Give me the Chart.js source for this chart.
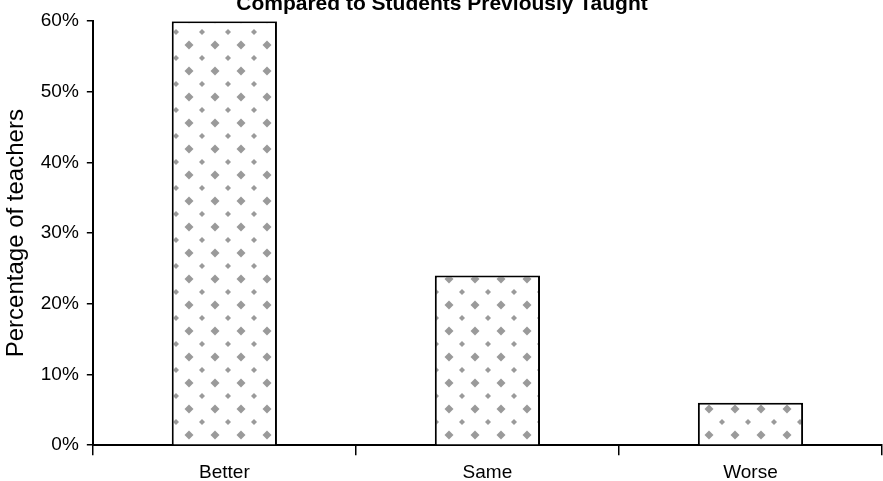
<!DOCTYPE html>
<html>
<head>
<meta charset="utf-8">
<script src="https://cdn.jsdelivr.net/npm/chart.js@4.4.1/dist/chart.umd.min.js"></script>
<style>
  html, body { margin: 0; padding: 0; background: #fff; overflow: hidden; }
  #wrap { position: absolute; left: 0; top: -14px; width: 883px; height: 504px; }
</style>
</head>
<body>
<div id="wrap"><canvas id="myChart"></canvas></div>
<script>
const categories = ['Better', 'Same', 'Worse']
const percentages = [60, 24, 6]
const yTicks = [0, 10, 20, 30, 40, 50, 60]

const ctx = document.getElementById('myChart')

// dotted halftone fill like the scanned bars
function dotPattern() {
  const c = document.createElement('canvas')
  c.width = 26
  c.height = 26
  const g = c.getContext('2d')
  g.fillStyle = '#ffffff'
  g.fillRect(0, 0, 26, 26)
  g.fillStyle = '#9a9a9a'
  const diamond = (x, y, r) => {
    g.beginPath()
    g.moveTo(x, y - r)
    g.lineTo(x + r, y)
    g.lineTo(x, y + r)
    g.lineTo(x - r, y)
    g.closePath()
    g.fill()
  }
  diamond(7, 7, 4.5)
  diamond(20, 20, 3)
  return g.createPattern(c, 'repeat')
}

const fontFam = "'Liberation Sans', Arial, sans-serif"

const myChart = new Chart(ctx, {
  type: 'bar',
  data: {
    labels: categories,
    datasets: [{
      label: 'Percentage of teachers',
      data: percentages,
      backgroundColor: dotPattern(),
      borderColor: '#000',
      borderWidth: 2,
      borderSkipped: 'bottom',
      categoryPercentage: 1,
      barPercentage: 0.4
    }]
  },
  options: {
    responsive: true,
    maintainAspectRatio: false,
    animation: false,
    layout: { padding: { left: 2, right: 1, top: 0, bottom: 0 } },
    plugins: {
      legend: { display: false },
      tooltip: { enabled: false },
      title: {
        display: true,
        text: 'Compared to Students Previously Taught',
        color: '#000',
        font: { family: fontFam, size: 21, weight: 'bold' },
        padding: { top: 6, bottom: 4 }
      }
    },
    scales: {
      y: {
        min: 0,
        max: 60,
        afterBuildTicks: (axis) => { axis.ticks = yTicks.map(v => ({ value: v })) },
        ticks: {
          color: '#000',
          font: { family: fontFam, size: 19 },
          padding: 8,
          callback: (v) => v + '%'
        },
        grid: { drawOnChartArea: false, color: '#000', tickLength: 6, lineWidth: 1.5 },
        border: { color: '#000', width: 2 },
        title: {
          display: true,
          text: 'Percentage of teachers',
          color: '#000',
          font: { family: fontFam, size: 24 },
          padding: { top: 0, bottom: 2 }
        }
      },
      x: {
        ticks: {
          color: '#000',
          font: { family: fontFam, size: 19 },
          padding: 6
        },
        grid: { drawOnChartArea: false, color: '#000', tickLength: 10, lineWidth: 1.5, offset: true },
        border: { color: '#000', width: 2 }
      }
    }
  }
})
</script>
</body>
</html>
